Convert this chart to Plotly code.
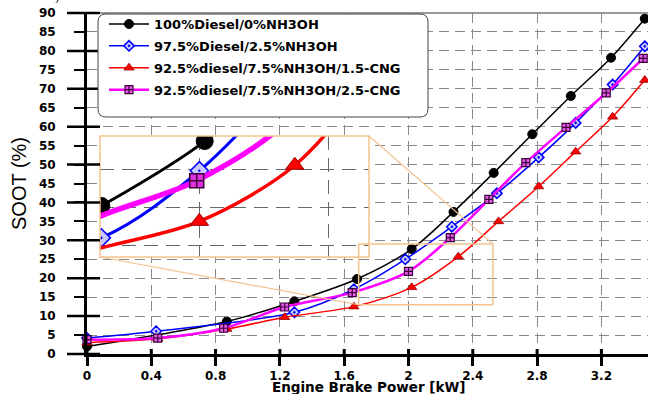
import plotly.graph_objects as go

# ---------------- data ----------------
series_names = [
    "100%Diesel/0%NH3OH",
    "97.5%Diesel/2.5%NH3OH",
    "92.5%diesel/7.5%NH3OH/1.5-CNG",
    "92.5%diesel/7.5%NH3OH/2.5-CNG",
]
power_d100 = [0.00, 0.87, 1.29, 1.68, 2.02, 2.28, 2.53, 2.77, 3.01, 3.26, 3.47]
soot_d100 = [2.0, 8.6, 13.9, 19.8, 27.7, 37.5, 47.8, 58.0, 68.1, 78.2, 88.5]

power_d975 = [0.00, 0.43, 1.29, 1.66, 1.98, 2.27, 2.55, 2.81, 3.04, 3.27, 3.47]
soot_d975 = [4.2, 6.0, 11.0, 17.1, 25.0, 33.6, 42.4, 51.9, 61.0, 71.1, 81.2]

power_c15 = [0.00, 0.44, 0.87, 1.23, 1.66, 2.02, 2.31, 2.56, 2.81, 3.04, 3.27, 3.47]
soot_c15 = [3.0, 4.0, 6.6, 9.7, 12.5, 17.6, 25.7, 35.0, 44.2, 53.4, 62.6, 72.3]

power_c25 = [0.00, 0.44, 0.85, 1.23, 1.65, 2.00, 2.26, 2.50, 2.73, 2.98, 3.23, 3.46]
soot_c25 = [3.8, 4.2, 6.8, 12.4, 16.2, 21.8, 30.7, 40.8, 50.5, 59.8, 68.9, 78.0]

x_tick_vals = [0, 0.4, 0.8, 1.2, 1.6, 2.0, 2.4, 2.8, 3.2]
x_tick_text = ["0", "0.4", "0.8", "1.2", "1.6", "2", "2.4", "2.8", "3.2"]
y_major_ticks = [0, 10, 20, 30, 40, 50, 60, 70, 80, 90]

x_title = "Engine Brake Power [kW]"
y_title = "SOOT (%)"
top_text = "mixture, the soot value reaches 59.870."

# ---------------- layout constants ----------------
W, H = 648, 394
ML, MR, MT, MB = 87, 0, 13, 40
PW, PH = W - ML - MR, H - MT - MB
X_RANGE = [0, 3.49]
Y_RANGE = [0, 90]
INSET_X_RANGE = [1.285, 2.30]
INSET_Y_RANGE = [9.26, 20.26]
ZOOM_X = [1.69, 2.525]
ZOOM_Y = [13.0, 29.06]

ORANGE = "#f2c38c"
GRID = "#8a8a8a"
BOLD = dict(family="DejaVu Sans", weight="bold", color="black")


def pxx(px):
    return (px - ML) / PW


def pxy(py):
    return (H - MB - py) / PH


def dx(x):
    return (x - X_RANGE[0]) / (X_RANGE[1] - X_RANGE[0])


def dy(y):
    return (y - Y_RANGE[0]) / (Y_RANGE[1] - Y_RANGE[0])


INSET_DOM_X = [pxx(100), pxx(369)]
INSET_DOM_Y = [pxy(257), pxy(136)]

styles = [
    dict(line=dict(color="black", width=1.5),
         marker=dict(symbol="circle", size=9, color="black", line=dict(color="black", width=1)),
         imarker=dict(symbol="circle", size=17, color="black", line=dict(color="black", width=1)),
         iwidth=3),
    dict(line=dict(color="#0000ff", width=1.5),
         marker=dict(symbol="diamond-dot", size=8, color="#c9c9ff", line=dict(color="#0000ff", width=1.5)),
         imarker=dict(symbol="diamond-dot", size=14, color="#c9c9ff", line=dict(color="#0000ff", width=1.5)),
         iwidth=3),
    dict(line=dict(color="#ff0000", width=1.5),
         marker=dict(symbol="triangle-up", size=9, color="#ff0000", line=dict(color="#990000", width=0.8)),
         imarker=dict(symbol="triangle-up", size=16, color="#ff0000", line=dict(color="#990000", width=1)),
         iwidth=3.5),
    dict(line=dict(color="#ff00ff", width=2.5),
         marker=dict(symbol="square-cross", size=8, color="#e85ae8", line=dict(color="#3a003a", width=1.2)),
         imarker=dict(symbol="square-cross", size=14, color="#e02ee0", line=dict(color="#3a003a", width=1.5)),
         iwidth=5.5),
]
xs = [power_d100, power_d975, power_c15, power_c25]
ys = [soot_d100, soot_d975, soot_c15, soot_c25]

fig = go.Figure()

for i, (name, x, y, st) in enumerate(zip(series_names, xs, ys, styles)):
    fig.add_trace(go.Scatter(
        x=x, y=y, name=name, mode="lines+markers", legendgroup=f"g{i}",
        line=dict(st["line"], shape="spline", smoothing=0.9),
        marker=st["marker"], cliponaxis=False,
        xaxis="x", yaxis="y",
    ))

for i, (name, x, y, st) in enumerate(zip(series_names, xs, ys, styles)):
    fig.add_trace(go.Scatter(
        x=x, y=y, name=name, mode="lines+markers", showlegend=False, legendgroup=f"g{i}",
        line=dict(color=st["line"]["color"], width=st["iwidth"], shape="spline", smoothing=0.9),
        marker=st["imarker"], xaxis="x2", yaxis="y2",
    ))

# rounded legend frame
r = 8
x0, x1 = pxx(98), pxx(428)
y0, y1 = pxy(117), pxy(14)
rx, ry = r / PW, r / PH
legend_path = (
    f"M {x0+rx},{y1} L {x1-rx},{y1} Q {x1},{y1} {x1},{y1-ry} "
    f"L {x1},{y0+ry} Q {x1},{y0} {x1-rx},{y0} L {x0+rx},{y0} "
    f"Q {x0},{y0} {x0},{y0+ry} L {x0},{y1-ry} Q {x0},{y1} {x0+rx},{y1} Z"
)

shapes = [
    dict(type="line", xref="paper", yref="paper", x0=0, x1=1, y0=1, y1=1,
         line=dict(color="#777777", width=1.5), layer="above"),
    dict(type="rect", xref="x2 domain", yref="y2 domain", x0=0, x1=1, y0=0, y1=1,
         fillcolor="white", line=dict(width=0), layer="below"),
    dict(type="rect", xref="x2 domain", yref="y2 domain", x0=0, x1=1, y0=0, y1=1,
         line=dict(color=ORANGE, width=1.5), layer="above"),
    dict(type="rect", xref="x", yref="y", x0=ZOOM_X[0], x1=ZOOM_X[1], y0=ZOOM_Y[0], y1=ZOOM_Y[1],
         line=dict(color=ORANGE, width=1.5), layer="above"),
    dict(type="line", xref="paper", yref="paper",
         x0=INSET_DOM_X[1], y0=INSET_DOM_Y[1], x1=dx(ZOOM_X[1]), y1=dy(ZOOM_Y[1]),
         line=dict(color=ORANGE, width=1.2), layer="above"),
    dict(type="line", xref="paper", yref="paper",
         x0=INSET_DOM_X[0], y0=INSET_DOM_Y[0], x1=dx(ZOOM_X[0]), y1=dy(ZOOM_Y[0]),
         line=dict(color=ORANGE, width=1.2), layer="above"),
]
# long crossing ticks at every 10 on y; x ticks poke a little inside
for v in y_major_ticks:
    shapes.append(dict(type="line", xref="paper", yref="paper", x0=pxx(67), x1=pxx(100),
                       y0=dy(v), y1=dy(v), line=dict(color="black", width=2.5), layer="above"))
for v in x_tick_vals:
    shapes.append(dict(type="line", xref="paper", yref="paper", x0=dx(v), x1=dx(v),
                       y0=0, y1=pxy(349), line=dict(color="black", width=3), layer="above"))
shapes.append(dict(type="path", xref="paper", yref="paper", path=legend_path,
                   fillcolor="white", line=dict(color="#444444", width=1), layer="above"))

fig.update_layout(
    width=W, height=H,
    margin=dict(l=ML, r=MR, t=MT, b=MB, pad=0),
    paper_bgcolor="white", plot_bgcolor="white",
    showlegend=True,
    legend=dict(x=pxx(104), y=pxy(9), xanchor="left", yanchor="top",
                bgcolor="rgba(0,0,0,0)", borderwidth=0, itemwidth=40,
                traceorder="grouped", tracegroupgap=2,
                font=dict(BOLD, size=13)),
    shapes=shapes,
    xaxis=dict(range=X_RANGE, domain=[0, 1], tickvals=x_tick_vals, ticktext=x_tick_text,
               ticks="outside", ticklen=9, tickwidth=3, tickcolor="black",
               showline=True, linecolor="black", linewidth=3,
               showgrid=True, gridcolor=GRID, gridwidth=1, griddash="10px,6px",
               zeroline=False, tickfont=dict(BOLD, size=12), ticklabelstandoff=0,
               automargin=False),
    yaxis=dict(range=Y_RANGE, domain=[0, 1], dtick=5, tick0=0,
               ticks="outside", ticklen=10, tickwidth=2, tickcolor="black",
               showline=True, linecolor="black", linewidth=3,
               showgrid=True, gridcolor=GRID, gridwidth=1, griddash="10px,6px",
               zeroline=False, tickfont=dict(BOLD, size=12), ticklabelstandoff=16,
               title=dict(text=y_title, font=dict(family="Liberation Sans Narrow, Liberation Sans",
                                                  size=20, color="black"), standoff=7),
               automargin=False),
    xaxis2=dict(domain=INSET_DOM_X, range=INSET_X_RANGE, anchor="y2",
                tick0=1.661, dtick=0.485, showticklabels=False, ticks="",
                showgrid=True, gridcolor="#666666", gridwidth=1, griddash="14px,8px",
                showline=False, zeroline=False, automargin=False),
    yaxis2=dict(domain=INSET_DOM_Y, range=INSET_Y_RANGE, anchor="x2",
                tick0=10.35, dtick=3.45, showticklabels=False, ticks="",
                showgrid=True, gridcolor="#666666", gridwidth=1, griddash="14px,8px",
                showline=False, zeroline=False, automargin=False),
    annotations=[
        dict(text=x_title, xref="paper", yref="paper", x=pxx(368), y=pxy(387),
             xanchor="center", yanchor="middle", showarrow=False,
             font=dict(BOLD, size=13.5)),
        dict(text=top_text, xref="paper", yref="paper", x=pxx(-3), y=pxy(6.5),
             xanchor="left", yanchor="bottom", showarrow=False,
             font=dict(family="Liberation Serif", size=18, color="black")),
    ],
)

fig.write_html("out.html")
